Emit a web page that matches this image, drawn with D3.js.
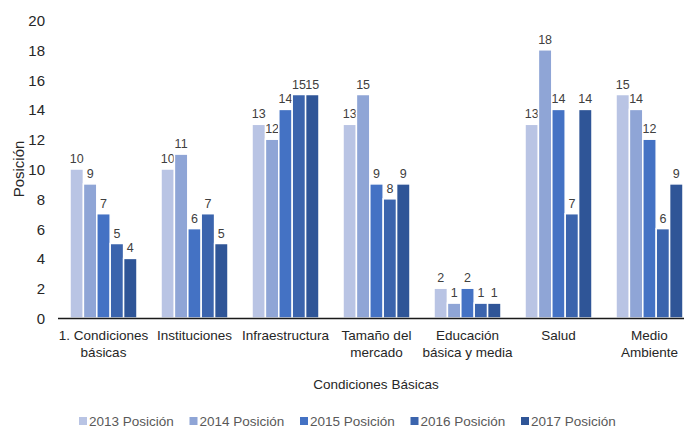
<!DOCTYPE html>
<html><head><meta charset="utf-8">
<script src="https://cdn.jsdelivr.net/npm/d3@7"></script>
<style>body{margin:0;background:#fff;}svg{display:block;font-family:"Liberation Sans",Arial,sans-serif;}</style>
</head><body><svg id="c" width="684" height="428"></svg>
<script>
const categories = [["1. Condiciones","básicas"],["Instituciones"],["Infraestructura"],["Tamaño del","mercado"],["Educación","básica y media"],["Salud"],["Medio","Ambiente"]];
const seriesNames = ["2013 Posición","2014 Posición","2015 Posición","2016 Posición","2017 Posición"];
const v2013 = [10,10,13,13,2,13,15];
const v2014 = [9,11,12,15,1,18,14];
const v2015 = [7,6,14,9,2,14,12];
const v2016 = [5,7,15,8,1,7,6];
const v2017 = [4,5,15,9,1,14,9];
const yTicks = [0,2,4,6,8,10,12,14,16,18,20];
const colors = ["#b9c4e4","#8fa5d6","#4472c4","#3b64ad","#2f5597"];
const series = [v2013,v2014,v2015,v2016,v2017];

const svg = d3.select("#c");
const x0 = d3.scaleBand().domain(d3.range(categories.length)).range([58,695]).paddingInner(0.264).paddingOuter(0.132);
const x1 = d3.scaleBand().domain(d3.range(series.length)).range([0,x0.bandwidth()]).padding(0.0);
const y = d3.scaleLinear().domain([0,20]).range([318,20]);

// y tick labels
const yAxis = d3.axisLeft(y).tickValues(yTicks).tickSize(0).tickPadding(0);
const ya = svg.append("g").attr("transform","translate(45,0)").call(yAxis);
ya.select(".domain").remove();
ya.selectAll("text").attr("font-size",15).attr("fill","#262626").attr("font-family","Liberation Sans, Arial, sans-serif").attr("dy","0.36em");

// bars
series.forEach((s,si)=>{
  const g = svg.append("g");
  g.selectAll("rect").data(s).join("rect")
    .attr("x",(d,i)=>x0(i)+x1(si))
    .attr("y",d=>y(d))
    .attr("width",x1.bandwidth())
    .attr("height",d=>y(0)-y(d))
    .attr("fill",colors[si])
    .attr("stroke","#fff").attr("stroke-width",1.5);
  g.selectAll("text").data(s).join("text")
    .attr("x",(d,i)=>x0(i)+x1(si)+x1.bandwidth()/2)
    .attr("y",d=>y(d)-6)
    .attr("text-anchor","middle")
    .attr("font-size",12.5).attr("fill","#404040")
    .text(d=>d);
});

// x axis line
svg.append("line").attr("x1",58).attr("x2",695).attr("y1",y(0)+0.5).attr("y2",y(0)+0.5).attr("stroke","#1a1a1a").attr("stroke-width",1.5);

// category labels
const cl = svg.append("g");
categories.forEach((c,i)=>{
  const t = cl.append("text").attr("x",x0(i)+x0.bandwidth()/2).attr("y",340).attr("text-anchor","middle").attr("font-size",13.5).attr("fill","#262626");
  c.forEach((line,li)=>t.append("tspan").attr("x",x0(i)+x0.bandwidth()/2).attr("dy",li?17:0).text(line));
});

// axis titles
svg.append("text").attr("x",376).attr("y",389).attr("text-anchor","middle").attr("font-size",13.5).attr("fill","#262626").text("Condiciones Básicas");
svg.append("text").attr("transform","translate(24,169) rotate(-90)").attr("text-anchor","middle").attr("font-size",15).attr("fill","#262626").text("Posición");

// legend
const lg = svg.append("g");
seriesNames.forEach((n,i)=>{
  const lx = 79 + i*110.5;
  lg.append("rect").attr("x",lx).attr("y",417).attr("width",8).attr("height",8).attr("fill",colors[i]);
  lg.append("text").attr("x",lx+10).attr("y",425.5).attr("font-size",13.5).attr("fill","#595959").text(n);
});
</script></body></html>
